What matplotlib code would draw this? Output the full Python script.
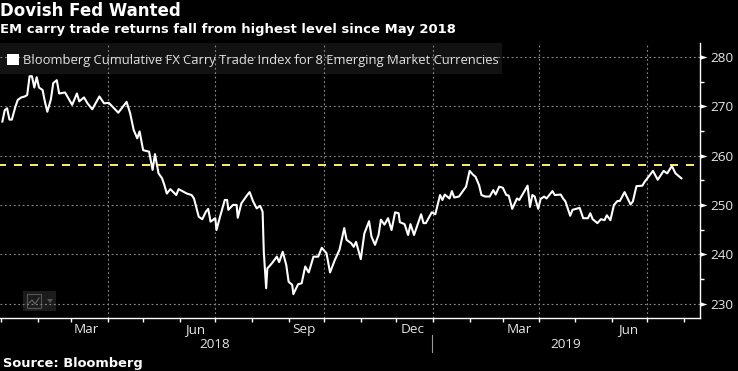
import datetime as dt
import matplotlib
matplotlib.use('Agg')
import matplotlib.pyplot as plt
import matplotlib.dates as mdates
from matplotlib.patches import Rectangle, Polygon

# days since 2018-01-01
days = [1, 3, 5, 7, 9, 12, 14, 17, 20, 22, 24, 26, 28, 30, 32, 35, 37, 39, 42, 44, 47, 49, 54, 60, 64, 66, 70, 73, 77, 83,
        87, 91, 99, 106, 109, 112, 115, 117, 120, 125, 128, 130, 133, 136, 138, 140, 143, 148, 150, 157, 161, 163, 167,
        170, 173, 175, 177, 181, 182, 185, 189, 191, 192, 196, 199, 200, 203, 208, 210, 213, 216, 219, 221, 222, 224,
        225, 229, 233, 235, 238, 241, 243, 246, 247, 251, 254, 257, 260, 264, 268, 271, 275, 278, 282, 286, 290, 292,
        296, 298, 300, 304, 307, 311, 313, 316, 319, 321, 324, 327, 330, 333, 336, 337, 341, 344, 346, 349, 355, 357,
        359, 364, 367, 371, 373, 375, 379, 381, 383, 387, 393, 396, 399, 401, 404, 406, 409, 413, 416, 418, 421, 424,
        427, 429, 432, 436, 438, 445, 447, 449, 451, 454, 456, 459, 461, 466, 468, 473, 475, 477, 481, 483, 489, 492,
        496, 498, 500, 504, 507, 510, 512, 515, 518, 521, 523, 527, 532, 534, 537, 542, 544, 551, 555, 560, 563, 567,
        570, 575]
index = [266.9, 269.2, 269.6, 267.3, 267.3, 269.9, 271.3, 271.8, 272.0, 272.3, 276.1, 276.1, 273.8, 275.9, 273.8, 273.3,
         270.9, 268.9, 271.4, 274.7, 275.3, 272.6, 272.8, 270.3, 272.6, 271.0, 271.8, 270.6, 269.4, 272.0, 270.6, 270.7,
         268.7, 270.9, 268.6, 265.2, 263.5, 264.9, 261.1, 260.8, 257.1, 260.3, 256.4, 255.4, 254.0, 252.3, 253.2, 252.0,
         253.2, 252.3, 252.0, 251.3, 247.6, 247.1, 248.6, 249.2, 246.6, 247.3, 244.9, 247.6, 251.0, 251.0, 249.0, 250.0,
         250.0, 247.4, 250.3, 252.0, 252.6, 250.7, 249.3, 249.8, 248.6, 240.5, 233.1, 237.1, 238.2, 239.5, 238.4, 240.5,
         237.8, 234.4, 233.8, 231.9, 233.9, 234.1, 237.5, 236.3, 239.5, 239.5, 241.3, 240.2, 236.3, 238.8, 240.9, 245.3,
         242.9, 242.2, 241.5, 242.5, 239.0, 244.2, 246.7, 243.6, 241.9, 243.9, 247.0, 246.0, 247.3, 244.9, 248.5, 248.3,
         246.5, 246.1, 243.9, 246.1, 243.9, 248.1, 246.3, 246.3, 248.5, 248.1, 252.0, 251.0, 252.1, 251.3, 252.8, 251.5,
         251.7, 253.7, 256.9, 256.1, 255.7, 254.0, 252.0, 251.7, 251.7, 253.0, 252.1, 253.7, 253.5, 252.0, 251.9, 249.2,
         251.3, 251.0, 253.9, 249.6, 252.0, 251.7, 249.2, 251.2, 251.7, 251.3, 252.8, 252.0, 252.1, 251.3, 250.7, 247.8,
         249.0, 249.4, 247.3, 247.3, 248.3, 247.1, 246.3, 247.1, 246.9, 247.9, 246.9, 250.0, 250.8, 250.8, 252.6, 250.1,
         250.7, 253.8, 253.9, 254.7, 256.9, 255.1, 256.9, 256.4, 257.9, 256.4, 255.4]
peak_level = 258
y_major = [230, 240, 250, 260, 270, 280]
y_minor = [235, 245, 255, 265, 275]
month_labels = ['Mar', 'Jun', 'Sep', 'Dec', 'Mar', 'Jun']
month_label_dates = ['2018-03-14', '2018-06-14', '2018-09-14', '2018-12-15', '2019-03-15', '2019-06-15']
quarter_starts = ['2018-04-01', '2018-07-01', '2018-10-01', '2019-01-01', '2019-04-01', '2019-07-01']
legend_label = 'Bloomberg Cumulative FX Carry Trade Index for 8 Emerging Market Currencies'

W, H = 738, 371
base = dt.date(2018, 1, 1)
dates = [base + dt.timedelta(days=d) for d in days]


def px(x, y):
    # image pixels -> figure fraction
    return x / W, 1 - y / H


plt.rcParams['font.family'] = ['Open Sans', 'DejaVu Sans']
fig = plt.figure(figsize=(W / 100, H / 100), dpi=100, facecolor='black')
ax = fig.add_axes([0, 1 - 318.3 / H, 700.3 / W, (318.3 - 43) / H])
ax.patch.set_visible(False)
ax.set_zorder(5)

ax.set_xlim(base + dt.timedelta(days=-1), base + dt.timedelta(days=591.5))
ax.set_ylim(227.0, 282.84)

for s in ['top', 'left']:
    ax.spines[s].set_visible(False)
for s in ['right', 'bottom']:
    ax.spines[s].set_color('white')
    ax.spines[s].set_linewidth(1)

for d in quarter_starts:
    ax.axvline(dt.date.fromisoformat(d), color='#8a8a8a', lw=0.8, ls=(0, (1.6, 2.4)), zorder=1)
for v in y_major:
    ax.axhline(v, color='#8a8a8a', lw=0.8, ls=(0, (1.6, 2.4)), zorder=1)

ax.plot([base + dt.timedelta(days=-1), base + dt.timedelta(days=586)], [peak_level, peak_level],
        color='#F5E66E', lw=1.44, ls=(1, (4, 4)), zorder=2)
ax.plot(dates, index, color='white', lw=1.5, solid_joinstyle='round', zorder=3)

ax.xaxis.set_major_locator(mdates.MonthLocator())
ax.xaxis.set_major_formatter(plt.NullFormatter())
ax.tick_params(axis='x', which='major', length=3, width=1, color='white')
ax.yaxis.tick_right()
ax.set_yticks(y_major)
ax.set_yticks(y_minor, minor=True)
ax.tick_params(axis='y', which='major', length=0, pad=7.5, labelsize=9.7, labelcolor='#e6e6e6')
ax.tick_params(axis='y', which='minor', length=3.2, width=1, color='white')

# triangle ticks on the value axis
tri = [(0, -0.32), (0, 0.32), (1, 0)]
ax.plot([1] * len(y_major), y_major, transform=ax.get_yaxis_transform(), ls='none', marker=tri,
        ms=10, mfc='white', mew=0, clip_on=False, zorder=5)

for lab, d in zip(month_labels, month_label_dates):
    ax.annotate(lab, (mdates.date2num(dt.date.fromisoformat(d)), 0), xycoords=ax.get_xaxis_transform(), xytext=(0, -7.8),
                textcoords='offset points', ha='center', va='center', fontsize=9.7, color='#e6e6e6')

fig.text(*px(215, 344.5), '2018', ha='center', va='center', fontsize=9.7, color='#e6e6e6')
fig.text(*px(566, 344.5), '2019', ha='center', va='center', fontsize=9.7, color='#e6e6e6')
fig.add_artist(plt.Line2D([431.7 / W, 431.7 / W], [1 - 335 / H, 1 - 352 / H], color='#9a9a9a', lw=0.8))

# legend box
fig.add_artist(Rectangle(px(0, 74), 502 / W, 31 / H, transform=fig.transFigure, fc='#121212', ec='none', zorder=2))
fig.add_artist(Rectangle(px(7, 65), 12 / W, 11 / H, transform=fig.transFigure, fc='white', ec='none', zorder=6))
fig.text(*px(23, 60.5), legend_label, ha='left', va='center', fontsize=9.34, color='#e0e0e0', zorder=6)

# chart-type widget in the corner
fig.add_artist(Rectangle(px(23, 311), 33 / W, 20 / H, transform=fig.transFigure, fc='#1c1c1c', ec='none', zorder=2))
fig.add_artist(Rectangle(px(27, 308), 14 / W, 14 / H, transform=fig.transFigure, fc='none', ec='#555555', lw=0.8, zorder=3))
fig.add_artist(plt.Line2D([x / W for x in (29, 32, 35, 39)], [1 - y / H for y in (303, 300, 304, 298)],
                          color='#666666', lw=0.8, zorder=3))
fig.add_artist(Polygon([px(47, 299), px(53, 299), px(50, 303)], transform=fig.transFigure, fc='#555555', ec='none', zorder=3))

fig.text(*px(0, 16), 'Dovish Fed Wanted', family='DejaVu Sans', weight='bold', fontsize=11.95, color='white', va='baseline')
fig.text(*px(0, 32.7), 'EM carry trade returns fall from highest level since May 2018', family='DejaVu Sans',
         weight='bold', fontsize=9.47, color='white', va='baseline')
fig.text(*px(3, 367), 'Source: Bloomberg', family='DejaVu Sans', weight='bold', fontsize=9.35, color='white', va='baseline')

fig.savefig('out.png', dpi=100, facecolor='black')
